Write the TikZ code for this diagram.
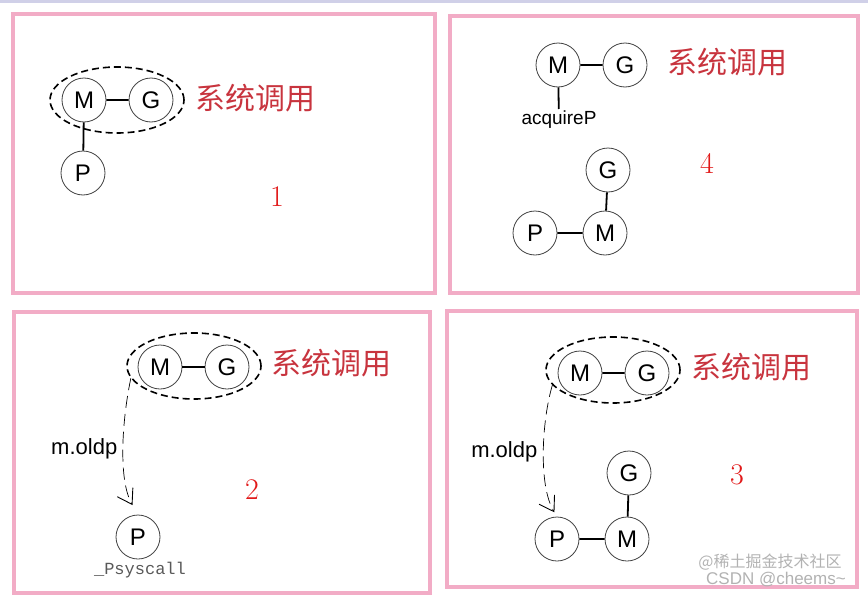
\documentclass[tikz,border=0pt]{standalone}
\usepackage{fontspec}
\setsansfont{Liberation Sans}
\setmonofont{Liberation Mono}
\newfontfamily\cjkfont{Noto Sans CJK SC}
\usetikzlibrary{arrows.meta,shapes.geometric}

\definecolor{framepink}{RGB}{242,172,198}
\definecolor{callred}{RGB}{200,52,62}
\definecolor{numred}{RGB}{225,25,25}
\definecolor{topline}{RGB}{208,208,232}

\tikzset{
  ball/.style={circle, draw=black!75, line width=0.8pt, minimum size=44pt, inner sep=0pt,
               fill=white, font=\sffamily\fontsize{24}{28}\selectfont},
  mgring/.style={ellipse, draw, dash pattern=on 7pt off 4pt, line width=1.6pt,
                 minimum width=134pt, minimum height=66pt, inner sep=0pt},
  syscall/.style={text=callred, font=\cjkfont\fontsize{30}{34}\selectfont},
  stepno/.style={text=numred, font=\fontsize{30}{34}\selectfont},
  tag/.style={font=\sffamily\fontsize{22}{26}\selectfont, inner sep=2pt},
  link/.style={draw, line width=1.8pt},
  oldp/.style={draw, line width=0.7pt, dash pattern=on 12pt off 6pt,
               -{Straight Barb[length=14pt,width=18pt,line width=0.9pt]}},
  panel/.style={draw=framepink, line width=3.5pt}
}

\begin{document}
\begin{tikzpicture}[x=1pt,y=-1pt]
\useasboundingbox (0,0) rectangle (868,597);
\fill[topline] (0,0) rectangle (868,2.5);

\draw[panel] (13,14) rectangle (435,293);
\draw[panel] (450,16) rectangle (858,293);
\draw[panel] (14,312) rectangle (430,593);
\draw[panel] (447,311) rectangle (857,587);

% 1
\node[mgring] (ringA) at (117,100) {};
\begin{scope}[every node/.style={ball}]
    \node (mA) at (84,100) {M};
    \node (gA) at (151,100) {G};
    \node (pA) at (83,173) {P};
\end{scope}
\node[syscall] (callA) at (255,98) {系统调用};
\node[stepno] (numA) at (277,197) {1};
\path[link] (mA) -- (gA) (pA) -- (mA);

% 4
\begin{scope}[every node/.style={ball}]
    \node (mD) at (558,65) {M};
    \node (gD) at (625,65) {G};
    \node (gDD) at (608,170) {G};
    \node (mDD) at (605,233) {M};
    \node (pD) at (535,233) {P};
\end{scope}
\node[syscall] (callD) at (727,62) {系统调用};
\node[tag, font=\sffamily\fontsize{19}{22}\selectfont, anchor=north] (acq) at (559,109) {acquireP};
\node[stepno] (numD) at (707,163) {4};
\path[link] (mD) -- (gD) (mD) -- (acq) (gDD) -- (mDD) (pD) -- (mDD);

% 2
\node[mgring] (ringB) at (194,366) {};
\begin{scope}[every node/.style={ball}]
    \node (mB) at (160,367) {M};
    \node (gB) at (227,367) {G};
    \node (pB) at (138,537) {P};
\end{scope}
\node[syscall] (callB) at (331,363) {系统调用};
\node[stepno] (numB) at (252,490) {2};
\node[font=\ttfamily\fontsize{17}{20}\selectfont, text=black!65] (sysB) at (140,570) {\_Psyscall};
\path[link] (mB) -- (gB);
\path[oldp, shorten >=11pt] (ringB.191) .. controls (122,420) and (118,480) .. (pB.north)
    node[tag, pos=0.5, left=4pt] {m.oldp};

% 3
\node[mgring] (ringC) at (613,370) {};
\begin{scope}[every node/.style={ball}]
    \node (mC) at (580,373) {M};
    \node (gC) at (647,373) {G};
    \node (gCC) at (629,473) {G};
    \node (mCC) at (627,539) {M};
    \node (pC) at (557,539) {P};
\end{scope}
\node[syscall] (callC) at (751,367) {系统调用};
\node[stepno] (numC) at (737,475) {3};
\path[link] (mC) -- (gC) (gCC) -- (mCC) (pC) -- (mCC);
\path[oldp, shorten >=5pt] (ringC.194) .. controls (542,420) and (538,485) .. (pC.north)
    node[tag, pos=0.5, left=4pt] {m.oldp};

% watermark
\node[text=black!30, font=\cjkfont\fontsize{16}{18}\selectfont] (wmA) at (770,562) {@稀土掘金技术社区};
\node[text=black!30, font=\sffamily\fontsize{17}{20}\selectfont] (wmB) at (776,580) {CSDN @cheems\textasciitilde};

\end{tikzpicture}
\end{document}
